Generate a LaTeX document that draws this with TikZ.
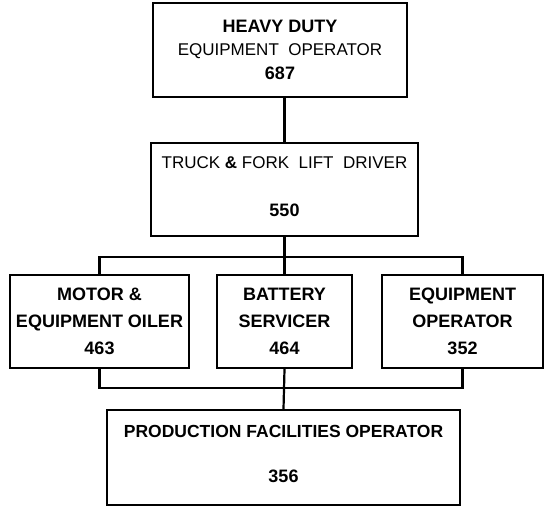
\documentclass[tikz,border=0pt]{standalone}
\usepackage{fontspec}
\setmainfont{Liberation Sans}
\usetikzlibrary{positioning,calc}

\begin{document}
\begin{tikzpicture}[x=1pt,y=-1pt,
  post/.style={draw,line width=2pt,rectangle,inner sep=0pt,align=center,
    font=\fontsize{17}{24}\selectfont},
  link/.style={line width=2.2pt},
  bigbf/.style={font=\bfseries\fontsize{18}{27}\selectfont}]
\useasboundingbox (0,0) rectangle (545,506);
% ---- top post ----
\node[post,minimum width=254,minimum height=94] (heavy) at (280,50)
  {{\bfseries\fontsize{18}{24}\selectfont HEAVY DUTY}\\[-1pt]
   EQUIPMENT\ \ OPERATOR\\[0pt]
   {\bfseries\fontsize{18}{24}\selectfont 687}};
% ---- driver ----
\node[post,minimum width=267,minimum height=93] (truck) at (284.5,189.5)
  {TRUCK \textbf{\&} FORK\ \ LIFT\ \ DRIVER\\[24pt]
   {\bfseries\fontsize{18}{24}\selectfont 550}\\[-18pt]};
% ---- third row ----
\node[post,bigbf,minimum width=179,minimum height=93] (oiler) at (99.5,321.5)
  {MOTOR \&\\EQUIPMENT OILER\\463};
\node[post,bigbf,minimum width=135,minimum height=93] (battery) at (284.5,321.5)
  {BATTERY\\SERVICER\\464};
\node[post,bigbf,minimum width=161,minimum height=93] (equipop) at (462.5,321.5)
  {EQUIPMENT\\OPERATOR\\352};
% ---- bottom post ----
\node[post,minimum width=353,minimum height=95] (prod) at (283.5,457.5)
  {{\bfseries\fontsize{17.5}{24}\selectfont PRODUCTION FACILITIES OPERATOR}\\[21pt]
   {\bfseries\fontsize{18}{24}\selectfont 356}\\[-16pt]};
% ---- connectors ----
\draw[link] (heavy.south -| truck.north) -- (truck.north);
\draw[link] (truck.south) -- (battery.north);
\draw[link] (oiler.north) -- ++(0,-17) -| (equipop.north);
\draw[link] (oiler.south) -- ++(0,19) -| (equipop.south);
\draw[link] (battery.south) -- (prod.north);
\end{tikzpicture}
\end{document}
